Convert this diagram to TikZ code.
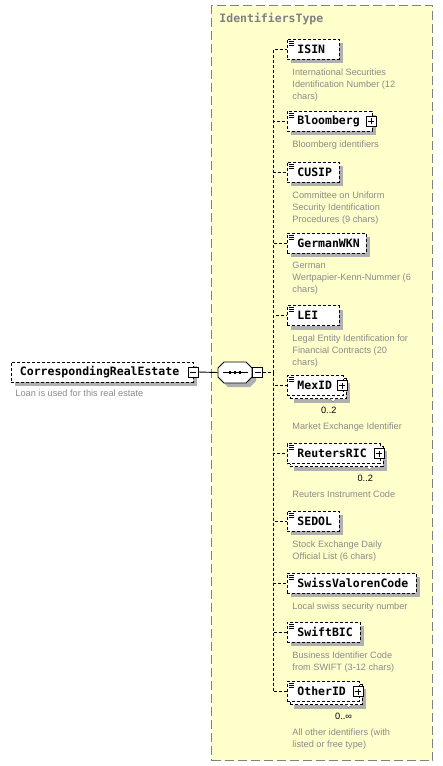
\documentclass[tikz,border=0pt]{standalone}
\usepackage{fontspec}
\setmainfont{Liberation Sans}
\newfontfamily\xsdmono{DejaVu Sans Mono}
\usetikzlibrary{positioning}
\definecolor{typeyellow}{HTML}{FFFFCC}
\definecolor{typeline}{HTML}{808080}
\definecolor{descgray}{HTML}{8A8A8A}
\definecolor{xsdshade}{HTML}{B0B0B0}
\newcommand{\namefont}{\xsdmono\bfseries\fontsize{11.5pt}{13pt}\selectfont}
\newcommand{\descfont}{\fontsize{9.2pt}{12pt}\selectfont}
% octagon of the sequence compositor, shifted by #1,#2
\newcommand{\seqoct}[2]{(224+#1,362+#2) -- (246+#1,362+#2) -- (252+#1,368+#2) -- (252+#1,377+#2)
    -- (246+#1,383+#2) -- (224+#1,383+#2) -- (218+#1,377+#2) -- (218+#1,368+#2) -- cycle}
% shadow of a box: left x, centre y, width
\newcommand{\boxshade}[3]{\fill[fill=xsdshade] (#1+4,#2-6) rectangle (#1+#3+4,#2+14);}

\begin{document}
\begin{tikzpicture}[
    x=1pt, y=-1pt, line width=0.9pt,
    elem/.style={draw, dash pattern=on 3pt off 2pt, fill=white, font=\namefont, anchor=west,
        minimum height=20pt, inner xsep=10pt, inner ysep=0pt, text width=#1, align=left},
    simple/.style={path picture={\foreach \k in {2,4,6}
        \draw[solid, line width=0.7pt] ([xshift=2pt, yshift=-\k pt]path picture bounding box.north west) -- ++(5pt,0);}},
    expbox/.style={draw, solid, fill=white, minimum size=10pt, inner sep=0pt, line width=0.8pt},
    plusbox/.style={expbox, path picture={
        \draw[line width=0.8pt] ([xshift=-3pt]path picture bounding box.center) -- ([xshift=3pt]path picture bounding box.center)
            ([yshift=-3pt]path picture bounding box.center) -- ([yshift=3pt]path picture bounding box.center);}},
    minusbox/.style={expbox, path picture={
        \draw[line width=0.8pt] ([xshift=-3pt]path picture bounding box.center) -- ([xshift=3pt]path picture bounding box.center);}},
    seqbox/.style={minimum width=34pt, minimum height=21pt, inner sep=0pt},
    typebox/.style={draw=typeline, fill=typeyellow, dash pattern=on 9pt off 4pt, line width=1.2pt, inner sep=0pt},
    typelabel/.style={font=\namefont, text=typeline, anchor=west, inner sep=0pt},
    desc/.style={font=\descfont, text=descgray, align=left, inner sep=0pt},
    count/.style={font=\descfont, inner sep=0pt},
    notch/.style={fill=white, draw=black!55, line width=0.5pt},
    conn/.style={dash pattern=on 3pt off 2pt},
]
\useasboundingbox (0,0) rectangle (443,766);

% complex type
\node[typebox, minimum width=221pt, minimum height=755pt, anchor=north west] (idtype) at (211,5) {};
\node[typelabel] (idtype-l) at (219,19) {IdentifiersType};

% shadows
\boxshade{11}{372}{182}
\fill[fill=xsdshade] \seqoct{4}{4};
\boxshade{287}{49}{52}
\boxshade{287}{121}{85}
\boxshade{287}{172}{52}
\boxshade{287}{243}{79}
\boxshade{287}{315.5}{52}
\boxshade{290}{388.5}{56}
\boxshade{290}{456.5}{92.5}
\boxshade{287}{521}{52}
\boxshade{287}{583}{129}
\boxshade{287}{632}{73}
\boxshade{290}{694.5}{71.5}

% root element and sequence
\node[elem=165pt, inner xsep=8.5pt] (root) at (11,372) {CorrespondingRealEstate};
\node[minusbox] (root-x) at ([xshift=-1pt]root.east) {};
\node[desc, below right=6.5pt and 4pt of root.south west] (root-d) {Loan is used for this real estate};

\node[seqbox] (seq) at (235,372.5) {};
\filldraw[fill=white] \seqoct{0}{0};
\draw ([xshift=-12pt]seq.center) -- ([xshift=13pt]seq.center);
\foreach \d in {-5,0,5}
    \fill ([xshift=\d pt]seq.center) +(-1.3pt,-1.3pt) rectangle +(1.3pt,1.3pt);
\node[minusbox, anchor=west] (seq-x) at (seq.east) {};

% children
\node[elem=32pt, simple] (isin) at (287,49) {ISIN};
\node[desc, below right=8.5pt and 5pt of isin.south west] (isin-d) {International Securities\\Identification Number (12\\chars)};

\node[elem=65pt, simple] (bloomberg) at (287,121) {Bloomberg};
\node[plusbox] (bloomberg-x) at ([xshift=-1.5pt]bloomberg.east) {};
\node[desc, below right=8.5pt and 5pt of bloomberg.south west] (bloomberg-d) {Bloomberg identifiers};

\node[elem=32pt, simple] (cusip) at (287,172) {CUSIP};
\node[desc, below right=8.5pt and 5pt of cusip.south west] (cusip-d) {Committee on Uniform\\Security Identification\\Procedures (9 chars)};

\node[elem=59pt, simple] (germanwkn) at (287,243) {GermanWKN};
\node[desc, below right=8.5pt and 5pt of germanwkn.south west] (germanwkn-d) {German\\Wertpapier-Kenn-Nummer (6\\chars)};

\node[elem=32pt, simple] (lei) at (287,315.5) {LEI};
\node[desc, below right=8.5pt and 5pt of lei.south west] (lei-d) {Legal Entity Identification for\\Financial Contracts (20\\chars)};

\node[elem=36pt] (mexid-b) at (290,388.5) {};
\node[elem=36pt, simple] (mexid) at (287,385.5) {MexID};
\node[plusbox] (mexid-x) at ([xshift=-1.5pt]mexid.east) {};
\draw[notch] ([xshift=-17pt]mexid-b.south east) -- ++(3pt,-3pt) -- ++(3pt,3pt);
\node[count, below left=8pt and 10pt of mexid-b.south east] (mexid-n) {0..2};
\node[desc, below right=26pt and 5pt of mexid.south west] (mexid-d) {Market Exchange Identifier};

\node[elem=72.5pt] (reutersric-b) at (290,456.5) {};
\node[elem=72.5pt, simple] (reutersric) at (287,453.5) {ReutersRIC};
\node[plusbox] (reutersric-x) at ([xshift=-1.5pt]reutersric.east) {};
\draw[notch] ([xshift=-17pt]reutersric-b.south east) -- ++(3pt,-3pt) -- ++(3pt,3pt);
\node[count, below left=8pt and 10pt of reutersric-b.south east] (reutersric-n) {0..2};
\node[desc, below right=26pt and 5pt of reutersric.south west] (reutersric-d) {Reuters Instrument Code};

\node[elem=32pt, simple] (sedol) at (287,521) {SEDOL};
\node[desc, below right=8.5pt and 5pt of sedol.south west] (sedol-d) {Stock Exchange Daily\\Official List (6 chars)};

\node[elem=109pt, simple] (swiss) at (287,583) {SwissValorenCode};
\node[desc, below right=8.5pt and 5pt of swiss.south west] (swiss-d) {Local swiss security number};

\node[elem=53pt, simple] (swiftbic) at (287,632) {SwiftBIC};
\node[desc, below right=8.5pt and 5pt of swiftbic.south west] (swiftbic-d) {Business Identifier Code\\from SWIFT (3-12 chars)};

\node[elem=51.5pt] (otherid-b) at (290,694.5) {};
\node[elem=51.5pt, simple] (otherid) at (287,691.5) {OtherID};
\node[plusbox] (otherid-x) at ([xshift=-1.5pt]otherid.east) {};
\draw[notch] ([xshift=-17pt]otherid-b.south east) -- ++(3pt,-3pt) -- ++(3pt,3pt);
\node[count, below left=8pt and 10pt of otherid-b.south east] (otherid-n) {0..∞};
\node[desc, below right=26pt and 5pt of otherid.south west] (otherid-d) {All other identifiers (with\\listed or free type)};

% connectors
\draw (root-x.east) -- (seq.west);
\coordinate (trunk) at (273,372.5);
\draw[conn] (seq-x.east) -- (trunk);
\foreach \n in {isin,bloomberg,cusip,germanwkn,lei,mexid,reutersric,sedol,swiss,swiftbic,otherid}
    \draw[conn] (trunk) |- (\n.west);
\end{tikzpicture}
\end{document}
